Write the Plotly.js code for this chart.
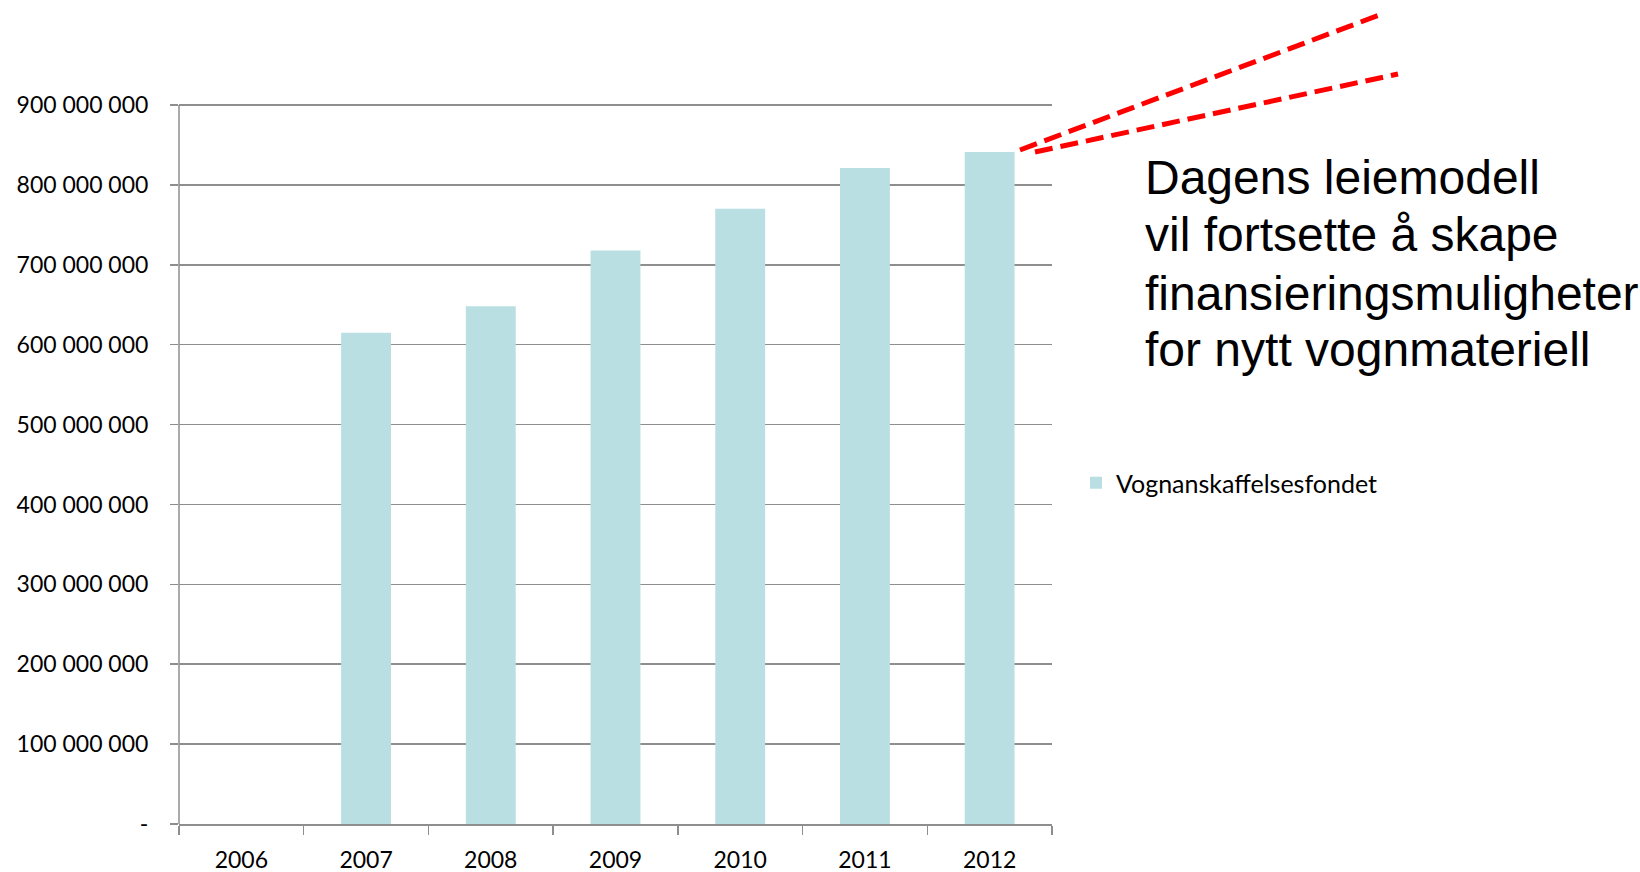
<!DOCTYPE html>
<html>
<head>
<meta charset="utf-8">
<script src="https://cdn.plot.ly/plotly-3.0.1.min.js"></script>
<style>html,body{margin:0;padding:0;background:#fff;}#chart{width:1640px;height:872px;}</style>
</head>
<body>
<div id="chart"></div>
<script>
// Data
const years = ['2006', '2007', '2008', '2009', '2010', '2011', '2012'];
const fundValues = [null, 615000000, 648000000, 718000000, 770000000, 821000000, 841000000];
const seriesName = 'Vognanskaffelsesfondet';
const yTickVals = [0, 100000000, 200000000, 300000000, 400000000, 500000000, 600000000, 700000000, 800000000, 900000000];
const yTickText = ['-', '100 000 000', '200 000 000', '300 000 000', '400 000 000', '500 000 000', '600 000 000', '700 000 000', '800 000 000', '900 000 000'];
const noteLines = ['Dagens leiemodell', 'vil fortsette å skape', 'finansieringsmuligheter', 'for nytt vognmateriell'];

// Layout geometry (pixels)
const W = 1640, H = 872;
const L = 179, R = 1052, T = 97, B = 824;
const px = x => (x - L) / (R - L);
const py = y => (B - y) / (B - T);

const tickFont = {family: 'Lato, "Open Sans", sans-serif', size: 23, color: '#000'};
const legendFont = {family: 'Lato, "Open Sans", sans-serif', size: 25, color: '#000'};
const gridColor = '#8e8e8e';

const trace = {
  type: 'bar',
  x: years,
  y: fundValues,
  name: seriesName,
  marker: {color: '#b9dfe2'},
  showlegend: true,
  hoverinfo: 'x+y'
};

const lineY = [178, 234.5, 293, 349.5];
const annotations = noteLines.map((t, i) => ({
  text: t, xref: 'paper', yref: 'paper',
  x: px(1143), y: py(lineY[i]), xanchor: 'left', yanchor: 'middle',
  showarrow: false, align: 'left',
  font: {family: '"Liberation Sans", Arial, sans-serif', size: 48, color: '#000'}
}));

const dash = {color: '#ff0000', width: 5, dash: '18px,8px'};
const shapes = [
  // left axis line, running from 0 up to the top gridline
  {type: 'line', xref: 'paper', yref: 'y', x0: 0, x1: 0, y0: 0, y1: yTickVals[yTickVals.length - 1],
   line: {color: gridColor, width: 1.5}, layer: 'above'},
  {type: 'line', xref: 'paper', yref: 'paper', x0: px(1020), y0: py(150), x1: px(1382), y1: py(14), line: dash},
  {type: 'line', xref: 'paper', yref: 'paper', x0: px(1035), y0: py(152), x1: px(1398), y1: py(74), line: dash}
];

const layout = {
  width: W, height: H,
  margin: {l: L, r: W - R, t: T, b: H - B, pad: 0},
  paper_bgcolor: '#fff', plot_bgcolor: '#fff',
  bargap: 0.6,
  font: tickFont,
  xaxis: {
    type: 'category',
    tickson: 'boundaries',
    ticks: 'outside', ticklen: 9, tickwidth: 1.5, tickcolor: gridColor,
    showline: true, linecolor: gridColor, linewidth: 1.5,
    showgrid: false, zeroline: false,
    tickfont: tickFont,
    ticklabelstandoff: 15,
    fixedrange: true
  },
  yaxis: {
    range: [0, 910000000],
    tickvals: yTickVals, ticktext: yTickText,
    ticks: 'outside', ticklen: 8, tickwidth: 1.5, tickcolor: gridColor,
    showline: false,
    showgrid: true, gridcolor: gridColor, gridwidth: 1.5,
    zeroline: false,
    tickfont: tickFont,
    ticklabelstandoff: 17,
    fixedrange: true
  },
  legend: {
    x: px(1076), y: py(483), xanchor: 'left', yanchor: 'middle',
    font: legendFont, bgcolor: 'rgba(0,0,0,0)'
  },
  annotations: annotations,
  shapes: shapes
};

Plotly.newPlot('chart', [trace], layout, {displayModeBar: false, staticPlot: true});
</script>
</body>
</html>
